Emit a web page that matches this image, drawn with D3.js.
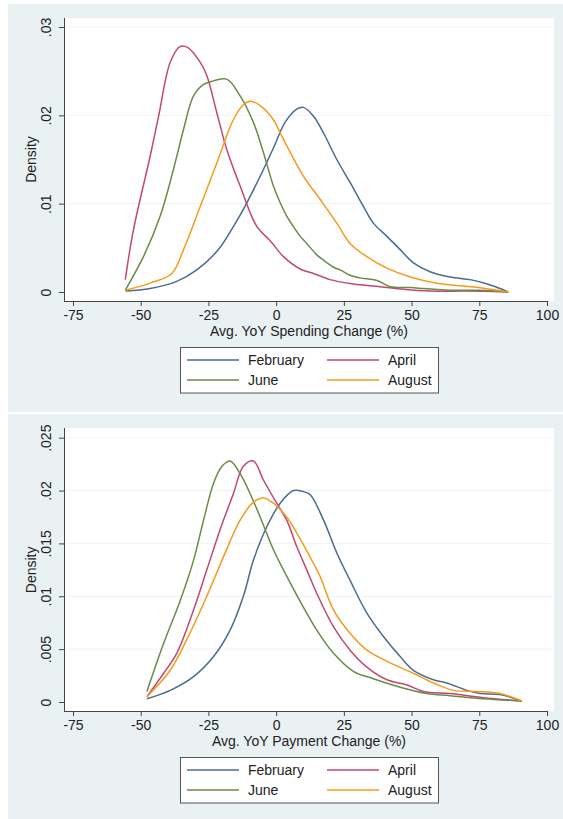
<!DOCTYPE html>
<html><head><meta charset="utf-8">
<script src="https://cdn.jsdelivr.net/npm/d3@7"></script>
<style>
html,body{margin:0;padding:0;background:#fff;}
svg{display:block;font-family:"Liberation Sans",Arial,sans-serif;}
</style></head>
<body>
<svg id="chart" width="563" height="819"></svg>
<script>
// ---------- data ----------
const seriesNames = ["February", "April", "June", "August"];
const xTicks = [-75, -50, -25, 0, 25, 50, 75, 100];
const topYTicks = [0, 0.01, 0.02, 0.03];
const bottomYTicks = [0, 0.005, 0.01, 0.015, 0.02, 0.025];
const topXTitle = "Avg. YoY Spending Change (%)";
const bottomXTitle = "Avg. YoY Payment Change (%)";
const yTitle = "Density";

const spendFebruary = [[-55.7,0.0001],[-46.5,0.0004],[-36.7,0.0012],[-29.3,0.0025],[-21.3,0.0048],[-15.8,0.0074],[-10.8,0.0101],[-5.9,0.0131],[-1,0.0163],[3.3,0.0192],[7.6,0.0207],[10.1,0.0209],[13.8,0.0199],[17.5,0.018],[22.4,0.015],[27.3,0.0124],[32.2,0.0097],[35.9,0.0078],[40.9,0.0063],[45.8,0.0048],[50.7,0.0033],[56.8,0.0023],[64.2,0.0017],[71.6,0.0014],[77,0.001],[81,0.0006],[85.7,0]];
const spendApril = [[-55.7,0.0014],[-52.7,0.007],[-46.5,0.0154],[-43.4,0.0199],[-39.1,0.026],[-35.4,0.0278],[-32.7,0.0277],[-28,0.026],[-25.6,0.0245],[-21.9,0.0203],[-18.2,0.0161],[-13.3,0.012],[-7.1,0.0074],[-2.2,0.0058],[2.7,0.004],[8.9,0.0026],[13.8,0.0021],[19.9,0.0014],[28.5,0.0009],[38.4,0.0006],[47,0.0003],[56.8,0.0001],[70,0.0001],[85.7,0]];
const spendJune = [[-55.7,0.0002],[-49,0.004],[-42.8,0.0086],[-37.9,0.0139],[-34.2,0.0184],[-30.5,0.0222],[-26.8,0.0235],[-23.1,0.0239],[-18.2,0.0241],[-13.3,0.0222],[-8.4,0.0192],[-4.7,0.0158],[-1,0.012],[1.5,0.0101],[3.9,0.0086],[6.4,0.0074],[8.9,0.0063],[11.3,0.0055],[15,0.0042],[17.5,0.0036],[21.2,0.0028],[23.6,0.0025],[27.3,0.0019],[31,0.0016],[37.2,0.0013],[42.1,0.0006],[49.5,0.0005],[54.4,0.0004],[64.2,0.0002],[75,0.0002],[85.7,0]];
const spendAugust = [[-55.7,0.0002],[-46.5,0.001],[-38.5,0.0021],[-34.2,0.0048],[-28,0.0097],[-21.9,0.0146],[-15.8,0.0195],[-12.1,0.0212],[-9.6,0.0216],[-5.9,0.0211],[-1,0.0195],[1.5,0.018],[5.2,0.0158],[10.1,0.0131],[16.2,0.0105],[22.4,0.0078],[27.3,0.0055],[33.5,0.004],[40.9,0.0027],[49.5,0.0017],[59.3,0.001],[71.6,0.0006],[77,0.0004],[85.7,0]];

const payFebruary = [[-47.7,0.0003],[-39.1,0.0011],[-30.5,0.0024],[-23.1,0.0043],[-17,0.0068],[-12.1,0.01],[-8.4,0.0134],[-3.4,0.0166],[1.5,0.0188],[6.4,0.02],[10.1,0.0199],[12.6,0.0196],[17.5,0.0172],[22.4,0.0141],[27.3,0.0115],[33.5,0.0084],[39.6,0.0062],[45.8,0.0043],[50.7,0.003],[58.1,0.0021],[63,0.0018],[70.4,0.0011],[75.3,0.0008],[82.7,0.0007],[90.7,0.0001]];
const payApril = [[-47.7,0.0005],[-41.6,0.0027],[-36.7,0.0046],[-30.5,0.0087],[-25.6,0.0125],[-20.7,0.0163],[-15.8,0.0197],[-12.1,0.0223],[-8.4,0.0228],[-4.7,0.021],[0.2,0.0188],[3.9,0.0172],[7.6,0.0147],[11.3,0.0125],[15.5,0.01],[21.2,0.0071],[27.3,0.0049],[33.5,0.0033],[40.9,0.0021],[48.3,0.0016],[54.4,0.001],[64.2,0.0008],[76.5,0.0004],[90.7,0.0001]];
const payJune = [[-47.7,0.001],[-41.6,0.0055],[-35.4,0.0096],[-30.5,0.0134],[-26.8,0.0172],[-23.1,0.0207],[-20,0.0223],[-17,0.0228],[-13.3,0.0216],[-9.6,0.0197],[-5.9,0.0175],[-1,0.0144],[3.9,0.0119],[8.9,0.0095],[15,0.0068],[21.2,0.0046],[28.5,0.0029],[35.9,0.0022],[45.8,0.0014],[55.7,0.0008],[64.2,0.0006],[76.5,0.0003],[90.7,0.0001]];
const payAugust = [[-47.7,0.0005],[-39.1,0.003],[-33,0.0059],[-25.6,0.01],[-19.5,0.0137],[-13.3,0.0172],[-8.4,0.0189],[-4.7,0.0193],[-1,0.0188],[3.9,0.0175],[8.9,0.0154],[13.8,0.0131],[16.2,0.0119],[21.2,0.0087],[27.3,0.0065],[33.5,0.0049],[42.1,0.0037],[50.7,0.0027],[58.1,0.0018],[65.5,0.0011],[74.1,0.001],[82.7,0.0008],[90.7,0.0001]];

// ---------- styles ----------
const colors = {February:"#4c6b8d", April:"#c24870", June:"#6b8a47", August:"#f79a1c"};
const bg = "#e9f1f3";

const svg = d3.select("#chart");
svg.append("rect").attr("x",0).attr("y",0).attr("width",563).attr("height",819).attr("fill","#fff");

function fmtY(d){ return d === 0 ? "0" : String(+d.toFixed(4)).replace(/^0/,""); }

function panel(cfg){
  const g = svg.append("g");
  g.append("rect").attr("x",8).attr("y",cfg.top).attr("width",555).attr("height",cfg.bgH).attr("fill",bg);
  const x = d3.scaleLinear().domain([-75,100]).range([73,547]);
  const y = d3.scaleLinear().domain([0,cfg.yMax]).range([cfg.y0, cfg.yTop]);
  // plot region
  g.append("rect").attr("x",64).attr("y",cfg.plotTop).attr("width",490).attr("height",cfg.axisY-cfg.plotTop).attr("fill","#fff");
  // grid
  g.selectAll(".grid").data(cfg.yTicks.filter(d=>d>0)).join("line")
    .attr("x1",66).attr("x2",552).attr("y1",d=>y(d)).attr("y2",d=>y(d))
    .attr("stroke","#eef3f5").attr("stroke-width",1);
  // curves
  const line = d3.line().x(d=>x(d[0])).y(d=>y(d[1])).curve(d3.curveCatmullRom.alpha(0.5));
  cfg.series.forEach((s,i)=>{
    g.append("path").datum(s).attr("d",line).attr("fill","none")
      .attr("stroke",colors[seriesNames[i]]).attr("stroke-width",1.5).attr("stroke-linejoin","round");
  });
  // axes
  const xa = g.append("g").attr("transform",`translate(0,${cfg.axisY})`)
    .call(d3.axisBottom(x).tickValues(xTicks).tickSize(5).tickSizeOuter(0).tickPadding(4).tickFormat(d=>String(d)));
  xa.select(".domain").remove();
  xa.selectAll("line").attr("stroke","#444");
  xa.selectAll("text").attr("font-size",14).attr("fill","#222").attr("font-family","Liberation Sans, Arial, sans-serif");
  g.append("line").attr("x1",64).attr("x2",548).attr("y1",cfg.axisY+0.5).attr("y2",cfg.axisY+0.5).attr("stroke","#444");

  const ya = g.append("g").attr("transform",`translate(64,0)`)
    .call(d3.axisLeft(y).tickValues(cfg.yTicks).tickSize(5).tickSizeOuter(0).tickFormat(fmtY));
  ya.select(".domain").remove();
  ya.selectAll("line").attr("stroke","#444");
  ya.selectAll("text").attr("font-size",14).attr("fill","#222").attr("font-family","Liberation Sans, Arial, sans-serif")
    .attr("text-anchor","middle").attr("x",null).attr("dy",null)
    .attr("transform","translate(-13,0) rotate(-90)");
  g.append("line").attr("x1",64.5).attr("x2",64.5).attr("y1",cfg.plotTop).attr("y2",cfg.axisY+1).attr("stroke","#444");

  // titles
  g.append("text").attr("x",309).attr("y",cfg.axisY+35).attr("text-anchor","middle")
    .attr("font-size",14).attr("fill","#222").text(cfg.xTitle);
  g.append("text").attr("transform",`translate(36,${(cfg.y0+cfg.yTop)/2}) rotate(-90)`).attr("text-anchor","middle")
    .attr("font-size",14).attr("fill","#222").text(yTitle);

  // legend
  const lt = cfg.legendTop;
  g.append("rect").attr("x",180.5).attr("y",lt+0.5).attr("width",258).attr("height",45.5)
    .attr("fill","#fff").attr("stroke","#555").attr("stroke-width",1);
  const pos = [[187,lt+13],[327,lt+13],[187,lt+33],[327,lt+33]];
  const order = ["February","April","June","August"];
  order.forEach((n,i)=>{
    const [lx,ly] = pos[i];
    g.append("line").attr("x1",lx).attr("x2",lx+52).attr("y1",ly).attr("y2",ly)
      .attr("stroke",colors[n]).attr("stroke-width",1.5);
    g.append("text").attr("x",lx+61).attr("y",ly+5).attr("font-size",14).attr("fill","#222").text(n);
  });
}

panel({top:4, bgH:408, plotTop:18, axisY:301, y0:292, yTop:27, yMax:0.03, yTicks:topYTicks,
  series:[spendFebruary, spendApril, spendJune, spendAugust], xTitle:topXTitle, legendTop:347});
panel({top:414, bgH:405, plotTop:428, axisY:711, y0:702, yTop:437.7, yMax:0.025, yTicks:bottomYTicks,
  series:[payFebruary, payApril, payJune, payAugust], xTitle:bottomXTitle, legendTop:757});
</script>
</body></html>
